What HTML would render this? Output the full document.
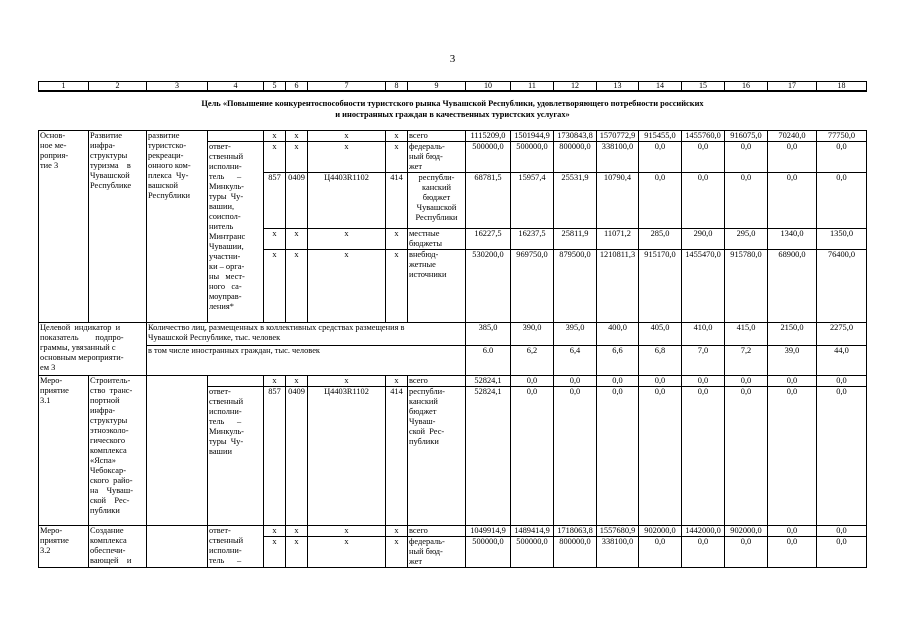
<!DOCTYPE html>
<html><head><meta charset="utf-8">
<style>
html,body{margin:0;padding:0;background:#fff;}
body{width:905px;height:640px;position:relative;overflow:hidden;font-family:"Liberation Serif",serif;color:#000;}
.pn{position:absolute;left:0;width:905px;top:53px;text-align:center;font-size:11px;}
table{position:absolute;left:38px;border-collapse:collapse;table-layout:fixed;width:828px;}
td{border:1px solid #000;padding:0 1px;vertical-align:top;font-size:8.4px;line-height:10px;overflow:hidden;white-space:nowrap;}
.n td{text-align:center;}
td.c{text-align:center;}
td.l{text-align:left;}
.hd{top:81px;}
.hd td{height:7px;line-height:8px;font-size:8px;text-align:center;border-bottom:2px solid #000;}
.title{position:absolute;left:0;width:905px;top:98px;text-align:center;font-weight:bold;font-size:8.4px;line-height:11px;}
.main{top:130px;}
</style></head><body>
<div class="pn">3</div>
<table class="hd">
<colgroup><col style="width:50px"><col style="width:58px"><col style="width:61px"><col style="width:56px"><col style="width:22px"><col style="width:22px"><col style="width:78px"><col style="width:22px"><col style="width:58px"><col style="width:45px"><col style="width:43px"><col style="width:43px"><col style="width:42px"><col style="width:43px"><col style="width:43px"><col style="width:43px"><col style="width:49px"><col style="width:50px"></colgroup>
<tr><td>1</td><td>2</td><td>3</td><td>4</td><td>5</td><td>6</td><td>7</td><td>8</td><td>9</td><td>10</td><td>11</td><td>12</td><td>13</td><td>14</td><td>15</td><td>16</td><td>17</td><td>18</td></tr>
</table>
<div class="title">Цель «Повышение конкурентоспособности туристского рынка Чувашской Республики, удовлетворяющего потребности российских<br>и иностранных граждан в качественных туристских услугах»</div>
<table class="main">
<colgroup><col style="width:50px"><col style="width:58px"><col style="width:61px"><col style="width:56px"><col style="width:22px"><col style="width:22px"><col style="width:78px"><col style="width:22px"><col style="width:58px"><col style="width:45px"><col style="width:43px"><col style="width:43px"><col style="width:42px"><col style="width:43px"><col style="width:43px"><col style="width:43px"><col style="width:49px"><col style="width:50px"></colgroup>
<tr class="n" style="height:10px"><td class="l" rowspan="5">Основ-<br>ное ме-<br>роприя-<br>тие 3</td><td class="l" rowspan="5">Развитие<br>инфра-<br>структуры<br>туризма &nbsp;&nbsp;&nbsp;в<br>Чувашской<br>Республике</td><td class="l" rowspan="5">развитие<br>туристско-<br>рекреаци-<br>онного ком-<br>плекса &nbsp;Чу-<br>вашской<br>Республики</td><td></td><td>x</td><td>x</td><td>x</td><td>x</td><td class="l">всего</td><td>1115209,0</td><td>1501944,9</td><td>1730843,8</td><td>1570772,9</td><td>915455,0</td><td>1455760,0</td><td>916075,0</td><td>70240,0</td><td>77750,0</td></tr>
<tr class="n" style="height:31px"><td class="l" rowspan="4">ответ-<br>ственный<br>исполни-<br>тель &nbsp;&nbsp;&nbsp;&nbsp;&nbsp;–<br>Минкуль-<br>туры &nbsp;Чу-<br>вашии,<br>соиспол-<br>нитель<br>Минтранс<br>Чувашии,<br>участни-<br>ки – орга-<br>ны &nbsp;&nbsp;мест-<br>ного &nbsp;&nbsp;са-<br>моуправ-<br>ления*</td><td>x</td><td>x</td><td>x</td><td>x</td><td class="l">федераль-<br>ный бюд-<br>жет</td><td>500000,0</td><td>500000,0</td><td>800000,0</td><td>338100,0</td><td>0,0</td><td>0,0</td><td>0,0</td><td>0,0</td><td>0,0</td></tr>
<tr class="n" style="height:56px"><td>857</td><td>0409</td><td>Ц4403R1102</td><td>414</td><td>республи-<br>канский<br>бюджет<br>Чувашской<br>Республики</td><td>68781,5</td><td>15957,4</td><td>25531,9</td><td>10790,4</td><td>0,0</td><td>0,0</td><td>0,0</td><td>0,0</td><td>0,0</td></tr>
<tr class="n" style="height:21px"><td>x</td><td>x</td><td>x</td><td>x</td><td class="l">местные<br>бюджеты</td><td>16227,5</td><td>16237,5</td><td>25811,9</td><td>11071,2</td><td>285,0</td><td>290,0</td><td>295,0</td><td>1340,0</td><td>1350,0</td></tr>
<tr class="n" style="height:73px"><td>x</td><td>x</td><td>x</td><td>x</td><td class="l">внебюд-<br>жетные<br>источники</td><td>530200,0</td><td>969750,0</td><td>879500,0</td><td>1210811,3</td><td>915170,0</td><td>1455470,0</td><td>915780,0</td><td>68900,0</td><td>76400,0</td></tr>
<tr class="n" style="height:23px"><td class="l" colspan="2" rowspan="2">Целевой &nbsp;индикатор &nbsp;и<br>показатель &nbsp;&nbsp;&nbsp;&nbsp;&nbsp;&nbsp;&nbsp;подпро-<br>граммы, увязанный с<br>основным мероприяти-<br>ем 3</td><td class="l" colspan="7">Количество лиц, размещенных в коллективных средствах размещения в<br>Чувашской Республике, тыс. человек</td><td>385,0</td><td>390,0</td><td>395,0</td><td>400,0</td><td>405,0</td><td>410,0</td><td>415,0</td><td>2150,0</td><td>2275,0</td></tr>
<tr class="n" style="height:30px"><td class="l" colspan="7">в том числе иностранных граждан, тыс. человек</td><td>6.0</td><td>6,2</td><td>6,4</td><td>6,6</td><td>6,8</td><td>7,0</td><td>7,2</td><td>39,0</td><td>44,0</td></tr>
<tr class="n" style="height:9px"><td class="l" rowspan="2">Меро-<br>приятие<br>3.1</td><td class="l" rowspan="2">Строитель-<br>ство &nbsp;транс-<br>портной<br>инфра-<br>структуры<br>этноэколо-<br>гического<br>комплекса<br>«Яспа»<br>Чебоксар-<br>ского &nbsp;райо-<br>на &nbsp;&nbsp;&nbsp;Чуваш-<br>ской &nbsp;&nbsp;&nbsp;Рес-<br>публики</td><td rowspan="2"></td><td></td><td>x</td><td>x</td><td>x</td><td>x</td><td class="l">всего</td><td>52824,1</td><td>0,0</td><td>0,0</td><td>0,0</td><td>0,0</td><td>0,0</td><td>0,0</td><td>0,0</td><td>0,0</td></tr>
<tr class="n" style="height:139px"><td class="l">ответ-<br>ственный<br>исполни-<br>тель &nbsp;&nbsp;&nbsp;&nbsp;&nbsp;–<br>Минкуль-<br>туры &nbsp;Чу-<br>вашии</td><td>857</td><td>0409</td><td>Ц4403R1102</td><td>414</td><td class="l">республи-<br>канский<br>бюджет<br>Чуваш-<br>ской &nbsp;Рес-<br>публики</td><td>52824,1</td><td>0,0</td><td>0,0</td><td>0,0</td><td>0,0</td><td>0,0</td><td>0,0</td><td>0,0</td><td>0,0</td></tr>
<tr class="n" style="height:9px"><td class="l" rowspan="2">Меро-<br>приятие<br>3.2</td><td class="l" rowspan="2">Создание<br>комплекса<br>обеспечи-<br>вающей &nbsp;&nbsp;&nbsp;и</td><td rowspan="2"></td><td class="l" rowspan="2">ответ-<br>ственный<br>исполни-<br>тель &nbsp;&nbsp;&nbsp;&nbsp;&nbsp;–</td><td>x</td><td>x</td><td>x</td><td>x</td><td class="l">всего</td><td>1049914,9</td><td>1489414,9</td><td>1718063,8</td><td>1557680,9</td><td>902000,0</td><td>1442000,0</td><td>902000,0</td><td>0,0</td><td>0,0</td></tr>
<tr class="n" style="height:30px"><td>x</td><td>x</td><td>x</td><td>x</td><td class="l">федераль-<br>ный бюд-<br>жет</td><td>500000,0</td><td>500000,0</td><td>800000,0</td><td>338100,0</td><td>0,0</td><td>0,0</td><td>0,0</td><td>0,0</td><td>0,0</td></tr>
</table>
</body></html>
